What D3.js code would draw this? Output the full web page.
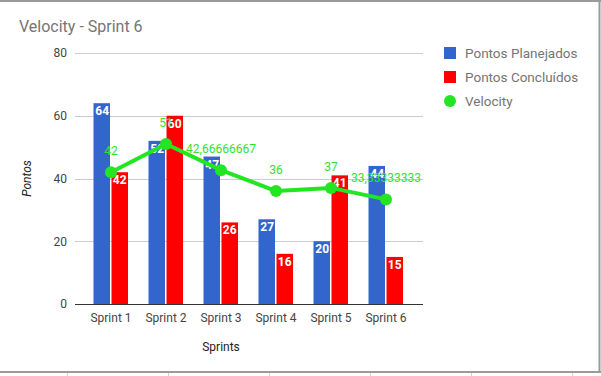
<!DOCTYPE html>
<html>
<head>
<meta charset="utf-8">
<script src="https://cdn.jsdelivr.net/npm/d3@7/dist/d3.min.js"></script>
<style>
  body { margin: 0; background: #fff; }
  svg { display: block; font-family: Roboto, Arial, sans-serif; }
</style>
</head>
<body>
<div id="chart"></div>
<script>
// data
const sprints = ['Sprint 1', 'Sprint 2', 'Sprint 3', 'Sprint 4', 'Sprint 5', 'Sprint 6'];
const planejados = [64, 52, 47, 27, 20, 44];
const concluidos = [42, 60, 26, 16, 41, 15];
const velocity = [42, 51, 42.66666667, 36, 37, 33.33333333];
const yTicks = [0, 20, 40, 60, 80];
const seriesNames = ['Pontos Planejados', 'Pontos Concluídos', 'Velocity'];
const colors = { planejados: '#3366cc', concluidos: '#ff0000', velocity: '#22e622' };

const width = 601, height = 376;
const svg = d3.select('#chart').append('svg')
  .attr('width', width)
  .attr('height', height);

// frame around the chart (spreadsheet embed)
svg.append('rect').attr('x', 0).attr('y', 0).attr('width', width).attr('height', height).attr('fill', '#fff');
svg.append('line').attr('x1', 0).attr('x2', 601).attr('y1', 1).attr('y2', 1).attr('stroke', '#9a9a9a').attr('stroke-width', 2);
svg.append('line').attr('x1', 599.5).attr('x2', 599.5).attr('y1', 0).attr('y2', 373).attr('stroke', '#9a9a9a').attr('stroke-width', 2);
svg.append('line').attr('x1', 0).attr('x2', 601).attr('y1', 372).attr('y2', 372).attr('stroke', '#9a9a9a').attr('stroke-width', 2);
[67, 168, 269, 370, 471, 572].forEach(x => {
  svg.append('line').attr('x1', x + 0.5).attr('x2', x + 0.5).attr('y1', 373).attr('y2', 376).attr('stroke', '#d0d0d0');
});

const plotLeft = 75, plotRight = 423;
const y = d3.scaleLinear().domain([0, 80]).range([304, 53]);
const x = d3.scaleBand().domain(sprints).range([83.5, 413.5]).padding(0);
const x1 = d3.scaleBand().domain(['p', 'c'])
  .range([(x.bandwidth() - 35) / 2, (x.bandwidth() + 35) / 2]);

// title
svg.append('text').attr('x', 19).attr('y', 32)
  .attr('font-size', 16).attr('fill', '#757575').text('Velocity - Sprint 6');

// gridlines
svg.append('g').selectAll('line').data(yTicks.filter(d => d > 0)).join('line')
  .attr('x1', plotLeft).attr('x2', plotRight)
  .attr('y1', d => Math.round(y(d)) + 0.5).attr('y2', d => Math.round(y(d)) + 0.5)
  .attr('stroke', '#cccccc');

// y axis labels
const yAxis = d3.axisLeft(y).tickValues(yTicks).tickSize(0).tickPadding(8);
const yg = svg.append('g').attr('transform', `translate(${plotLeft},0)`).call(yAxis);
yg.select('.domain').remove();
yg.selectAll('text').attr('font-size', 12).attr('fill', '#444').attr('font-family', 'Roboto, Arial, sans-serif');

svg.append('text')
  .attr('transform', `translate(31,${(y(0) + y(80)) / 2}) rotate(-90)`)
  .attr('text-anchor', 'middle').attr('font-size', 12).attr('font-style', 'italic')
  .attr('fill', '#222').text('Pontos');

// bars
const groups = svg.append('g').selectAll('g').data(sprints).join('g')
  .attr('transform', d => `translate(${x(d)},0)`);

function drawBars(key, values, color) {
  groups.append('rect')
    .attr('x', (d, i) => x1(key) + (key === 'c' ? 0.5 : 0))
    .attr('width', x1.bandwidth() - 1)
    .attr('y', (d, i) => y(values[i]))
    .attr('height', (d, i) => y(0) - y(values[i]))
    .attr('fill', color);
}
drawBars('p', planejados, colors.planejados);
drawBars('c', concluidos, colors.concluidos);

function barLabels(key, values) {
  groups.append('text')
    .attr('x', x1(key) + x1.bandwidth() / 2)
    .attr('y', (d, i) => y(values[i]) + 12)
    .attr('text-anchor', 'middle').attr('font-size', 12).attr('font-weight', 'bold')
    .attr('fill', '#fff').text((d, i) => values[i]);
}
barLabels('p', planejados);
barLabels('c', concluidos);

// baseline
svg.append('line').attr('x1', plotLeft).attr('x2', plotRight)
  .attr('y1', y(0) + 0.5).attr('y2', y(0) + 0.5).attr('stroke', '#333');

// x axis labels
const xAxis = d3.axisBottom(x).tickSize(0).tickPadding(9);
const xg = svg.append('g').attr('transform', `translate(0,${y(0)})`).call(xAxis);
xg.select('.domain').remove();
xg.selectAll('text').attr('font-size', 12).attr('fill', '#444').attr('font-family', 'Roboto, Arial, sans-serif');

svg.append('text').attr('x', 221).attr('y', 351)
  .attr('text-anchor', 'middle').attr('font-size', 12).attr('fill', '#222').text('Sprints');

// velocity line
const cx = d => x(d) + x.bandwidth() / 2;
const line = d3.line().x((d, i) => cx(sprints[i])).y(d => y(d));
svg.append('path').datum(velocity).attr('d', line)
  .attr('fill', 'none').attr('stroke', colors.velocity).attr('stroke-width', 4)
  .attr('stroke-linejoin', 'round');
svg.append('g').selectAll('circle').data(velocity).join('circle')
  .attr('cx', (d, i) => cx(sprints[i])).attr('cy', d => y(d)).attr('r', 6)
  .attr('fill', colors.velocity);
svg.append('g').selectAll('text').data(velocity).join('text')
  .attr('x', (d, i) => cx(sprints[i])).attr('y', d => y(d) - 17)
  .attr('text-anchor', 'middle').attr('font-size', 12).attr('fill', '#33e033')
  .text(d => String(d).replace('.', ','));

// legend
const legend = svg.append('g').attr('transform', 'translate(444,47)');
seriesNames.forEach((name, i) => {
  const g = legend.append('g').attr('transform', `translate(0,${i * 24})`);
  if (i < 2) {
    g.append('rect').attr('width', 12).attr('height', 12)
      .attr('fill', i === 0 ? colors.planejados : colors.concluidos);
  } else {
    g.append('circle').attr('cx', 6).attr('cy', 6).attr('r', 6).attr('fill', colors.velocity);
  }
  g.append('text').attr('x', 21).attr('y', 11).attr('font-size', 13.5)
    .attr('fill', '#757575').text(name);
});
</script>
</body>
</html>
